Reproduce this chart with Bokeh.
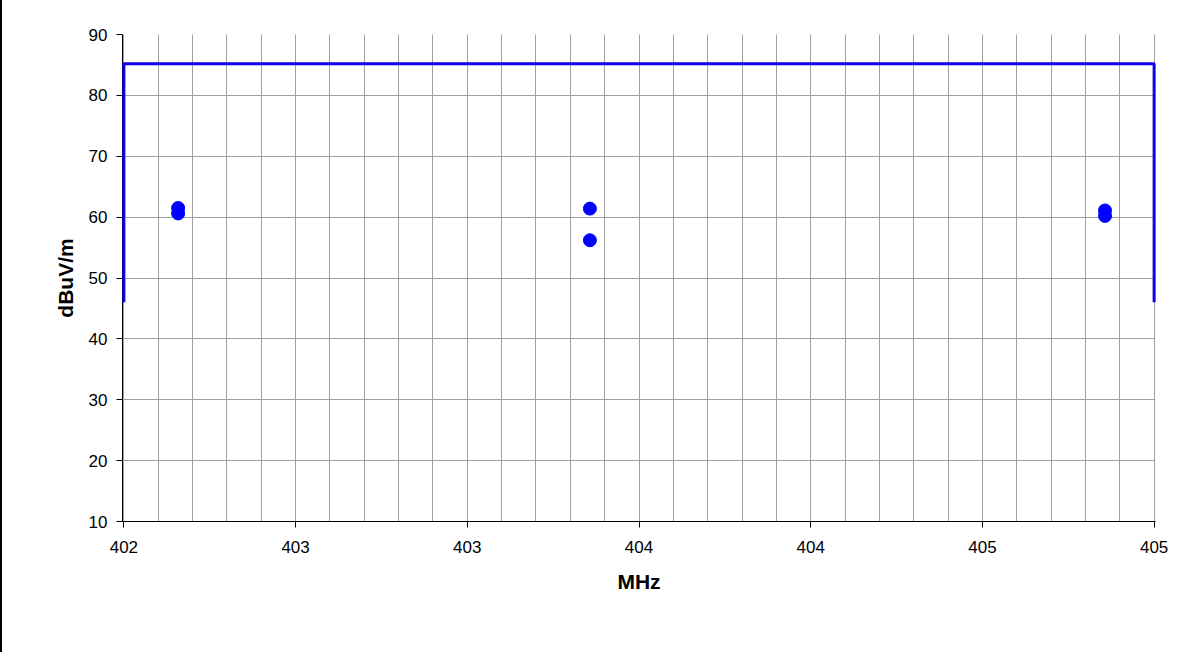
from bokeh.plotting import figure
from bokeh.models import Div, FixedTicker, Range1d, ColumnDataSource
from bokeh.layouts import row
from bokeh.embed import file_html
from bokeh.resources import INLINE

# ---- data ----
freq_mhz = [402.158, 402.158, 403.357, 403.357, 404.857, 404.857]
level_dbuv = [61.5, 60.6, 61.4, 56.2, 61.1, 60.2]

limit_freq = [402.0, 402.0, 405.0, 405.0]
limit_level = [46.0, 85.2, 85.2, 46.0]

x_ticks = [402.0, 402.5, 403.0, 403.5, 404.0, 404.5, 405.0]
x_tick_labels = ["402", "403", "403", "404", "404", "405", "405"]
y_ticks = [10, 20, 30, 40, 50, 60, 70, 80, 90]

x_minor = [round(402.0 + i * 0.1, 1) for i in range(31)]

FONT = "Liberation Sans"
GRID = "#a0a0a0"

p = figure(width=1202, height=652, output_backend="svg", toolbar_location=None,
           x_range=Range1d(401.996, 405.004), y_range=Range1d(10, 90),
           min_border_left=120, min_border_right=49, min_border_top=34,
           min_border_bottom=131, margin=(0, 0, 0, 0))
p.outline_line_color = None
p.background_fill_color = "white"
p.border_fill_color = "white"

# axes
p.xaxis.ticker = FixedTicker(ticks=x_ticks, minor_ticks=x_minor)
p.xaxis.major_label_overrides = {t: l for t, l in zip(x_ticks, x_tick_labels)}
p.yaxis.ticker = FixedTicker(ticks=y_ticks)
for ax in (p.xaxis[0], p.yaxis[0]):
    ax.axis_line_color = "black"
    ax.axis_line_width = 1
    ax.major_tick_line_color = "black"
    ax.major_tick_out = 6
    ax.major_tick_in = 0
    ax.minor_tick_out = 0
    ax.minor_tick_in = 0
    ax.major_label_text_font = FONT
    ax.major_label_text_font_size = "17px"
    ax.major_label_text_color = "black"
    ax.axis_label_text_font = FONT
    ax.axis_label_text_font_size = "21px"
    ax.axis_label_text_font_style = "bold"
    ax.axis_label_text_color = "black"

p.xaxis.axis_label = "MHz"
p.yaxis.axis_label = "dBuV/m"
p.xaxis.major_label_standoff = 13
p.xaxis.axis_label_standoff = 14
p.yaxis.major_label_standoff = 9
p.yaxis.axis_label_standoff = 9

# grids
p.xgrid.grid_line_color = GRID
p.xgrid.minor_grid_line_color = GRID
p.ygrid.grid_line_color = GRID
p.xgrid.grid_line_width = 1
p.ygrid.grid_line_width = 1

# limit line
lim = p.line(x=limit_freq, y=limit_level, line_color="#1400E6", line_width=3)
lim.level = "overlay"

# measurements
src = ColumnDataSource(dict(x=freq_mhz, y=level_dbuv))
p.scatter(x="x", y="y", source=src, size=13, marker="circle",
          fill_color="#0000FF", line_color="#0000FF")

edge = Div(width=2, height=652, margin=(0, 0, 0, 0),
           styles={"background-color": "black", "padding": "0px"})
layout = row(edge, p, spacing=0, margin=(0, 0, 0, 0))

open("out.html", "w").write(file_html(layout, INLINE))
